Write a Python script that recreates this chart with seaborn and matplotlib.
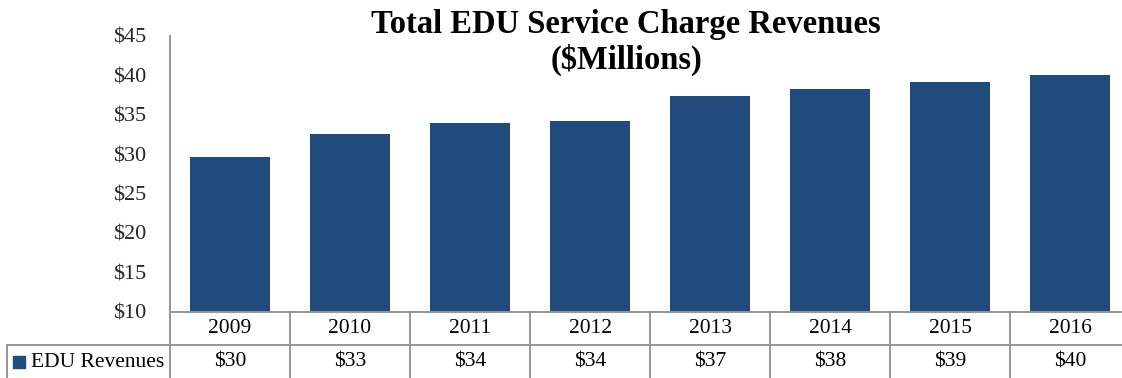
import matplotlib
matplotlib.use("Agg")
import matplotlib.pyplot as plt
import seaborn as sns
import pandas as pd

# Annual EDU service charge revenues, $ millions
years = ["2009", "2010", "2011", "2012", "2013", "2014", "2015", "2016"]
revenues = [29.6, 32.6, 34.0, 34.2, 37.4, 38.3, 39.2, 40.0]
series_name = "EDU Revenues"
y_ticks = [10, 15, 20, 25, 30, 35, 40, 45]
title_lines = ["Total EDU Service Charge Revenues", "($Millions)"]

sns.set_theme(style="white")
plt.rcParams["font.family"] = ["Liberation Serif", "DejaVu Serif"]

BAR_COLOR = "#214a7d"
GRID_COLOR = "#969696"
W, H = 1122, 378
fig = plt.figure(figsize=(W / 100, H / 100), dpi=100)

# plot area in pixels
left_px, right_px = 170, 1130
top_px, base_px = 36, 311.5
row_h = 33.8
FS = 15.5

ax = fig.add_axes([left_px / W, (H - base_px) / H,
                   (right_px - left_px) / W, (base_px - top_px) / H])
df = pd.DataFrame({"year": years, "revenue": revenues})
sns.barplot(data=df, x="year", y="revenue", color=BAR_COLOR, saturation=1,
            width=0.667, ax=ax, edgecolor="none")
ax.set_xlim(-0.5, len(years) - 0.5)
ax.set_ylim(y_ticks[0], y_ticks[-1])
ax.set_yticks(y_ticks)
ax.set_yticklabels([f"${t}" for t in y_ticks], fontsize=16)
ax.tick_params(axis="y", length=0, pad=17)
ax.set_xticks([])
ax.set_xlabel("")
ax.set_ylabel("")
for s in ["top", "right", "bottom"]:
    ax.spines[s].set_visible(False)
ax.spines["left"].set_color(GRID_COLOR)
ax.spines["left"].set_linewidth(1.4)

# data table under the plot
tax = fig.add_axes([left_px / W, (H - base_px - 2 * row_h) / H,
                    (right_px - left_px) / W, 2 * row_h / H])
tax.set_xlim(-0.5, len(years) - 0.5)
tax.set_ylim(0, 2)
tax.axis("off")
px_per_unit = (right_px - left_px) / len(years)
x_table_left = -0.5 - (left_px - 7) / px_per_unit

lk = dict(color=GRID_COLOR, lw=1.4, clip_on=False, solid_capstyle="projecting")
tax.plot([-0.5, len(years) - 0.5], [2, 2], **lk)
tax.plot([x_table_left, len(years) - 0.5], [1, 1], **lk)
for i in range(len(years) + 1):
    tax.plot([i - 0.5, i - 0.5], [-0.1, 2], **lk)
tax.plot([x_table_left, x_table_left], [-0.1, 1], **lk)

for i, (yr, v) in enumerate(zip(years, revenues)):
    tax.text(i, 1.5, yr, ha="center", va="center", fontsize=FS, color="black")
    tax.text(i, 0.5, f"${v:.0f}", ha="center", va="center", fontsize=FS,
             color="black")

tax.plot([x_table_left + 12 / px_per_unit], [0.5], marker="s", ms=8,
         color=BAR_COLOR, clip_on=False, linestyle="none")
tax.text(x_table_left + 24 / px_per_unit, 0.5, series_name, ha="left",
         va="center", fontsize=FS, color="black")

fig.text(626 / W, 1 - 24.5 / H, title_lines[0], ha="center", va="center",
         fontsize=23.5, fontweight="bold", color="black")
fig.text(626 / W, 1 - 59.5 / H, title_lines[1], ha="center", va="center",
         fontsize=23.5, fontweight="bold", color="black")

fig.savefig("out.png", dpi=100, facecolor="white")
